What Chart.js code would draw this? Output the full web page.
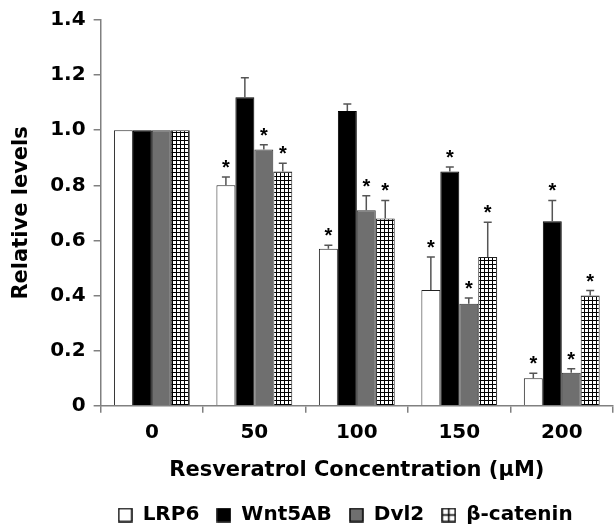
<!DOCTYPE html>
<html>
<head>
<meta charset="utf-8">
<script src="https://cdn.jsdelivr.net/npm/chart.js@4/dist/chart.umd.min.js"></script>
<style>
  html, body { margin: 0; padding: 0; background: #fff; }
  #wrap { width: 615px; height: 525px; }
</style>
</head>
<body>
<div id="wrap"><canvas id="chart" width="615" height="525"></canvas></div>
<script>
const categories = ['0', '50', '100', '150', '200'];
const seriesNames = ['LRP6', 'Wnt5AB', 'Dvl2', 'β-catenin'];

const lrp6 = [1.0, 0.80, 0.57, 0.42, 0.10];
const wnt5ab = [1.0, 1.12, 1.07, 0.85, 0.67];
const dvl2 = [1.0, 0.93, 0.71, 0.37, 0.12];
const betaCatenin = [1.0, 0.85, 0.68, 0.54, 0.40];

// upper error bars
const lrp6Err = [0, 0.03, 0.013, 0.12, 0.018];
const wnt5abErr = [0, 0.07, 0.025, 0.017, 0.075];
const dvl2Err = [0, 0.017, 0.052, 0.021, 0.014];
const betaCateninErr = [0, 0.03, 0.065, 0.126, 0.018];

// significance stars
const lrp6Sig = [false, true, true, true, true];
const wnt5abSig = [false, false, false, true, true];
const dvl2Sig = [false, true, true, true, true];
const betaCateninSig = [false, true, true, true, true];

const yTicks = [0, 0.2, 0.4, 0.6, 0.8, 1.0, 1.2, 1.4];

const FONT = '"DejaVu Sans", sans-serif';
Chart.defaults.font.family = FONT;
Chart.defaults.color = '#000';

function gridPattern(cell) {
    const c = document.createElement('canvas');
    c.width = cell;
    c.height = cell;
    const g = c.getContext('2d');
    g.fillStyle = '#fff';
    g.fillRect(0, 0, cell, cell);
    g.fillStyle = '#000';
    g.fillRect(0, 0, cell, 1);
    g.fillRect(0, 0, 1, cell);
    return g.createPattern(c, 'repeat');
}

function legendIcon(fill, cross) {
    const c = document.createElement('canvas');
    c.width = 15;
    c.height = 15;
    const g = c.getContext('2d');
    g.fillStyle = fill;
    g.fillRect(1, 1, 13, 13);
    g.strokeStyle = '#000';
    g.lineWidth = 1.5;
    g.strokeRect(1, 1, 13, 13);
    if (cross) {
        g.beginPath();
        g.moveTo(7.5, 1); g.lineTo(7.5, 14);
        g.moveTo(1, 7.5); g.lineTo(14, 7.5);
        g.stroke();
    }
    return c;
}

const legendIcons = [
    legendIcon('#fff', false),
    legendIcon('#000', false),
    legendIcon('#6f6f6f', false),
    legendIcon('#fff', true)
];

const errorBars = {
    id: 'errorBars',
    afterDatasetsDraw(chart) {
        const ctx = chart.ctx;
        const y = chart.scales.y;
        chart.data.datasets.forEach((ds, i) => {
            const meta = chart.getDatasetMeta(i);
            meta.data.forEach((bar, j) => {
                const err = ds.errors[j];
                const top = y.getPixelForValue(ds.data[j] + err);
                ctx.save();
                if (err > 0) {
                    ctx.strokeStyle = '#555';
                    ctx.lineWidth = 1.5;
                    ctx.beginPath();
                    ctx.moveTo(bar.x, bar.y);
                    ctx.lineTo(bar.x, top);
                    ctx.moveTo(bar.x - 4, top);
                    ctx.lineTo(bar.x + 4, top);
                    ctx.stroke();
                }
                if (ds.sig[j]) {
                    ctx.fillStyle = '#000';
                    ctx.font = 'bold 20px "Liberation Sans", sans-serif';
                    ctx.textAlign = 'center';
                    ctx.textBaseline = 'alphabetic';
                    ctx.fillText('*', bar.x, top - 3);
                }
                ctx.restore();
            });
        });
    }
};

const ctx = document.getElementById('chart');

new Chart(ctx, {
    type: 'bar',
    data: {
        labels: categories,
        datasets: [
            { label: seriesNames[0], data: lrp6, errors: lrp6Err, sig: lrp6Sig,
              backgroundColor: '#fff', borderColor: '#222', borderWidth: 1 },
            { label: seriesNames[1], data: wnt5ab, errors: wnt5abErr, sig: wnt5abSig,
              backgroundColor: '#000', borderColor: '#000', borderWidth: 1 },
            { label: seriesNames[2], data: dvl2, errors: dvl2Err, sig: dvl2Sig,
              backgroundColor: '#6f6f6f', borderColor: '#333', borderWidth: 1 },
            { label: seriesNames[3], data: betaCatenin, errors: betaCateninErr, sig: betaCateninSig,
              backgroundColor: gridPattern(4), borderColor: '#222', borderWidth: 1 }
        ]
    },
    options: {
        responsive: false,
        animation: false,
        devicePixelRatio: 1,
        layout: { padding: { top: 20, right: 2, left: 0, bottom: 0 } },
        datasets: { bar: { categoryPercentage: 0.74, barPercentage: 1.0 } },
        scales: {
            x: {
                offset: true,
                grid: {
                    offset: true,
                    drawOnChartArea: false,
                    color: '#808080',
                    lineWidth: 1.5,
                    tickLength: 7
                },
                border: { color: '#808080', width: 1.5 },
                ticks: {
                    color: '#000',
                    padding: 8,
                    font: { family: FONT, weight: 'bold', size: 20 }
                },
                title: {
                    display: true,
                    text: 'Resveratrol Concentration (μM)',
                    color: '#000',
                    padding: { top: 5, bottom: 5 },
                    font: { family: FONT, weight: 'bold', size: 21 }
                }
            },
            y: {
                min: 0,
                max: 1.4,
                afterBuildTicks: s => { s.ticks = yTicks.map(v => ({ value: v })); },
                grid: {
                    drawOnChartArea: false,
                    color: '#808080',
                    lineWidth: 1.5,
                    tickLength: 7
                },
                border: { color: '#808080', width: 1.5 },
                ticks: {
                    color: '#000',
                    padding: 8,
                    callback: v => v === 0 ? '0' : v.toFixed(1),
                    font: { family: FONT, weight: 'bold', size: 20 }
                },
                title: {
                    display: true,
                    text: 'Relative levels',
                    color: '#000',
                    padding: { top: 9, bottom: 8 },
                    font: { family: FONT, weight: 'bold', size: 21 }
                }
            }
        },
        plugins: {
            legend: {
                position: 'bottom',
                align: 'start',
                fullSize: false,
                maxHeight: 37,
                labels: {
                    usePointStyle: true,
                    boxWidth: 15,
                    boxHeight: 15,
                    padding: 17,
                    color: '#000',
                    font: { family: FONT, weight: 'bold', size: 20 },
                    generateLabels: chart => chart.data.datasets.map((ds, i) => ({
                        text: ds.label,
                        pointStyle: legendIcons[i],
                        datasetIndex: i,
                        fontColor: '#000',
                        hidden: false,
                        lineWidth: 0,
                        strokeStyle: 'transparent',
                        fillStyle: 'transparent'
                    }))
                }
            },
            tooltip: { enabled: false }
        }
    },
    plugins: [errorBars]
});
</script>
</body>
</html>
